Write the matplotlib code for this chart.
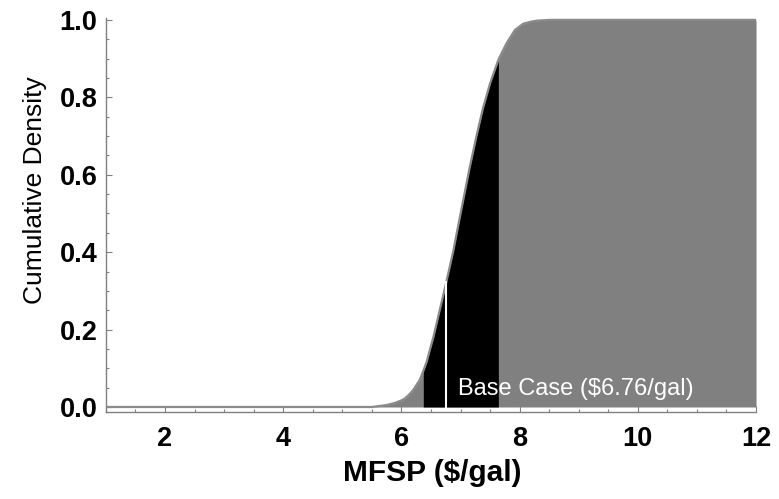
import numpy as np
import matplotlib
matplotlib.use("Agg")
import matplotlib.pyplot as plt
from matplotlib.ticker import MultipleLocator

# Data
mfsp = [1.0, 5.5, 5.75, 5.88, 6.0, 6.06, 6.13, 6.2, 6.31, 6.37, 6.43, 6.48, 6.54, 6.64, 6.74, 6.81, 6.88,
        6.96, 7.04, 7.15, 7.27, 7.38, 7.5, 7.64, 7.78, 7.92, 8.06, 8.18, 8.29, 8.4, 8.5, 12.0]
cdf = [0.0, 0.0, 0.005, 0.01, 0.017, 0.022, 0.032, 0.044, 0.07, 0.093, 0.118, 0.147, 0.18, 0.245, 0.31, 0.357, 0.405,
       0.468, 0.53, 0.615, 0.70, 0.772, 0.836, 0.897, 0.94, 0.974, 0.99, 0.995, 0.998, 0.999, 1.0, 1.0]
band_low = 6.37
band_high = 7.64
base_case = 6.76
base_label = "Base Case ($6.76/gal)"
x_ticks = [2, 4, 6, 8, 10, 12]
y_ticks = [0.0, 0.2, 0.4, 0.6, 0.8, 1.0]

fam = "Liberation Sans"

x = np.array(mfsp)
y = np.array(cdf)

fig = plt.figure(figsize=(7.79, 4.99), dpi=100)
ax = fig.add_axes([0.136, 0.1743, 0.8345, 0.7897])

ax.fill_between(x, 0, y, color="#808080", linewidth=0)
mask = (x >= band_low) & (x <= band_high)
ax.fill_between(x, 0, y, where=mask, color="black", linewidth=0)
ax.plot(x, y, color="#8a8a8a", lw=1.6, solid_capstyle="butt", solid_joinstyle="round")
ax.plot([base_case, base_case], [0, np.interp(base_case, x, y)], color="white", lw=1.5)
ax.text(6.95, 0.031, base_label, color="white", fontsize=17, family=fam,
        ha="left", va="baseline")

ax.set_xlim(1, 12)
ax.set_ylim(-0.013, 1.005)
for s in ["top", "right"]:
    ax.spines[s].set_visible(False)
for s in ["left", "bottom"]:
    ax.spines[s].set_color("#808080")
    ax.spines[s].set_linewidth(1.0)

ax.set_xticks(x_ticks)
ax.set_yticks(y_ticks)
ax.set_yticklabels([f"{v:.1f}" for v in y_ticks])
ax.xaxis.set_minor_locator(MultipleLocator(0.5))
ax.yaxis.set_minor_locator(MultipleLocator(0.05))
ax.tick_params(which="both", direction="in", color="#808080", width=0.8)
ax.tick_params(which="major", length=4.5)
ax.tick_params(which="minor", length=2.5)
ax.tick_params(axis="x", which="major", pad=10)
ax.tick_params(axis="y", which="major", pad=6)
for lab in ax.get_xticklabels() + ax.get_yticklabels():
    lab.set_fontfamily(fam)
    lab.set_fontweight("bold")
    lab.set_fontsize(19.5)

ax.set_xlabel("MFSP ($/gal)", fontsize=21.5, fontweight="bold", family=fam)
ax.xaxis.set_label_coords(0.502, -0.12)
ax.set_ylabel("Cumulative Density", fontsize=19, family=fam)
ax.yaxis.set_label_coords(-0.09, 0.563)

fig.savefig("out.png", dpi=100)
